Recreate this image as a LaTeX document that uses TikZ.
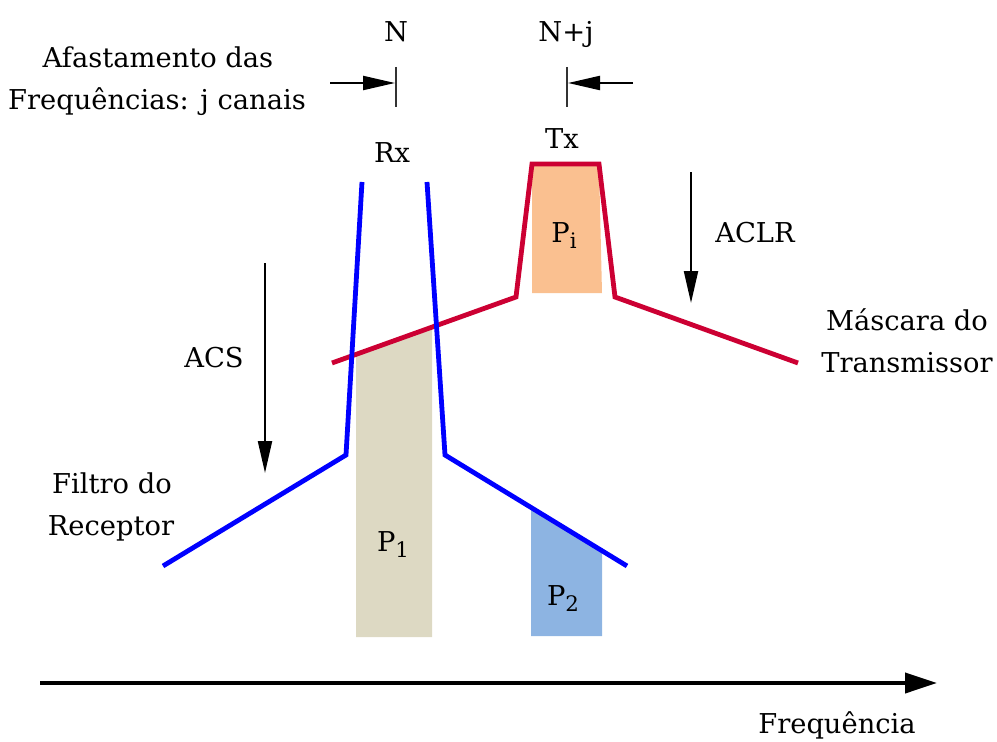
\documentclass[tikz,border=0pt]{standalone}
\usepackage{fontspec}
\setmainfont{DejaVu Serif}
\usetikzlibrary{arrows.meta,calc}
\definecolor{rxblue}{RGB}{0,0,255}
\definecolor{txred}{RGB}{204,0,51}
\definecolor{pgray}{RGB}{221,217,195}
\definecolor{porange}{RGB}{250,192,144}
\definecolor{pblue}{RGB}{141,180,226}
\newcommand{\mysubtxt}[1]{\raisebox{-4.5pt}{\fontsize{16}{16}\selectfont #1}}
\tikzset{
  lbl/.style={font=\fontsize{20.5}{30}\selectfont, inner sep=0pt, anchor=base},
  rxline/.style={draw=rxblue, line width=3.6pt},
  txline/.style={draw=txred, line width=3.6pt},
  darrow/.style={draw=black, line width=1.6pt, -{Triangle[length=24pt,width=10.5pt]}},
  axarrow/.style={draw=black, line width=3pt, -{Triangle[length=24pt,width=15pt]}},
  ticklin/.style={draw=black!80, line width=1.3pt}
}
\begin{document}
\begin{tikzpicture}[x=0.75pt,y=-0.75pt]
\useasboundingbox (0,0) rectangle (997,742);
% curve points
\coordinate (rxLT) at (362,182);
\coordinate (rxLB) at (346,455);
\coordinate (rxLE) at (163,566);
\coordinate (rxRT) at (427,182);
\coordinate (rxRB) at (445,455);
\coordinate (rxRE) at (627,566);
\coordinate (txLE) at (332,363);
\coordinate (txLB) at (516,297);
\coordinate (txLT) at (532,164);
\coordinate (txRT) at (599,164);
\coordinate (txRB) at (615,297);
\coordinate (txRE) at (798,363);
% power areas
\fill[pgray] (356,354.4) -- (432,327.1) -- (432,637) -- (356,637) -- cycle;
\fill[porange] (532,164) -- (599,164) -- (602,293) -- (532,293) -- cycle;
\fill[pblue] (531,507.5) -- (602,550.8) -- (602,636) -- (531,636) -- cycle;
% masks
\draw[txline] (txLE) -- (txLB) -- (txLT) -- (txRT) -- (txRB) -- (txRE);
\draw[rxline] (rxLT) -- (rxLB) -- (rxLE);
\draw[rxline] (rxRT) -- (rxRB) -- (rxRE);
% channel markers
\coordinate (nA) at (330,83);
\coordinate (nB) at (395,83);
\coordinate (nT1) at (396,67);
\coordinate (nT2) at (396,107);
\coordinate (mA) at (633,83);
\coordinate (mB) at (568,83);
\coordinate (mT1) at (567,67);
\coordinate (mT2) at (567,107);
\draw[darrow] (nA) -- (nB);
\draw[ticklin] (nT1) -- (nT2);
\draw[darrow] (mA) -- (mB);
\draw[ticklin] (mT1) -- (mT2);
% ACS / ACLR arrows
\coordinate (acsS) at (265,263);
\coordinate (acsE) at (265,473);
\coordinate (aclrS) at (691,172);
\coordinate (aclrE) at (691,303);
\draw[darrow] (acsS) -- (acsE);
\draw[darrow] (aclrS) -- (aclrE);
% frequency axis
\coordinate (axS) at (40,683);
\coordinate (axE) at (937,683);
\draw[axarrow] (axS) -- (axE);
% labels
\node[lbl] (N) at (396,42) {N};
\node[lbl] (Nj) at (566,42) {N+j};
\node[lbl] (Rx) at (392,162) {Rx};
\node[lbl] (Tx) at (562,148) {Tx};
\node[lbl] (Pi) at (564,242) {P\mysubtxt{i}};
\node[lbl] (P1) at (393,551) {P\mysubtxt{1}};
\node[lbl] (P2) at (563,605) {P\mysubtxt{2}};
\node[lbl] (aclr) at (755,242) {ACLR};
\node[lbl] (acs) at (214,367) {ACS};
\node[lbl] (masc1) at (907,330) {Máscara do};
\node[lbl] (masc2) at (907,372) {Transmissor};
\node[lbl] (filt1) at (112,493) {Filtro do};
\node[lbl] (filt2) at (111,535) {Receptor};
\node[lbl] (freq) at (837,733) {Frequência};
\node[lbl] (afa1) at (158,68) {Afastamento das};
\node[lbl] (afa2) at (157,110) {Frequências: j canais};
\end{tikzpicture}
\end{document}
